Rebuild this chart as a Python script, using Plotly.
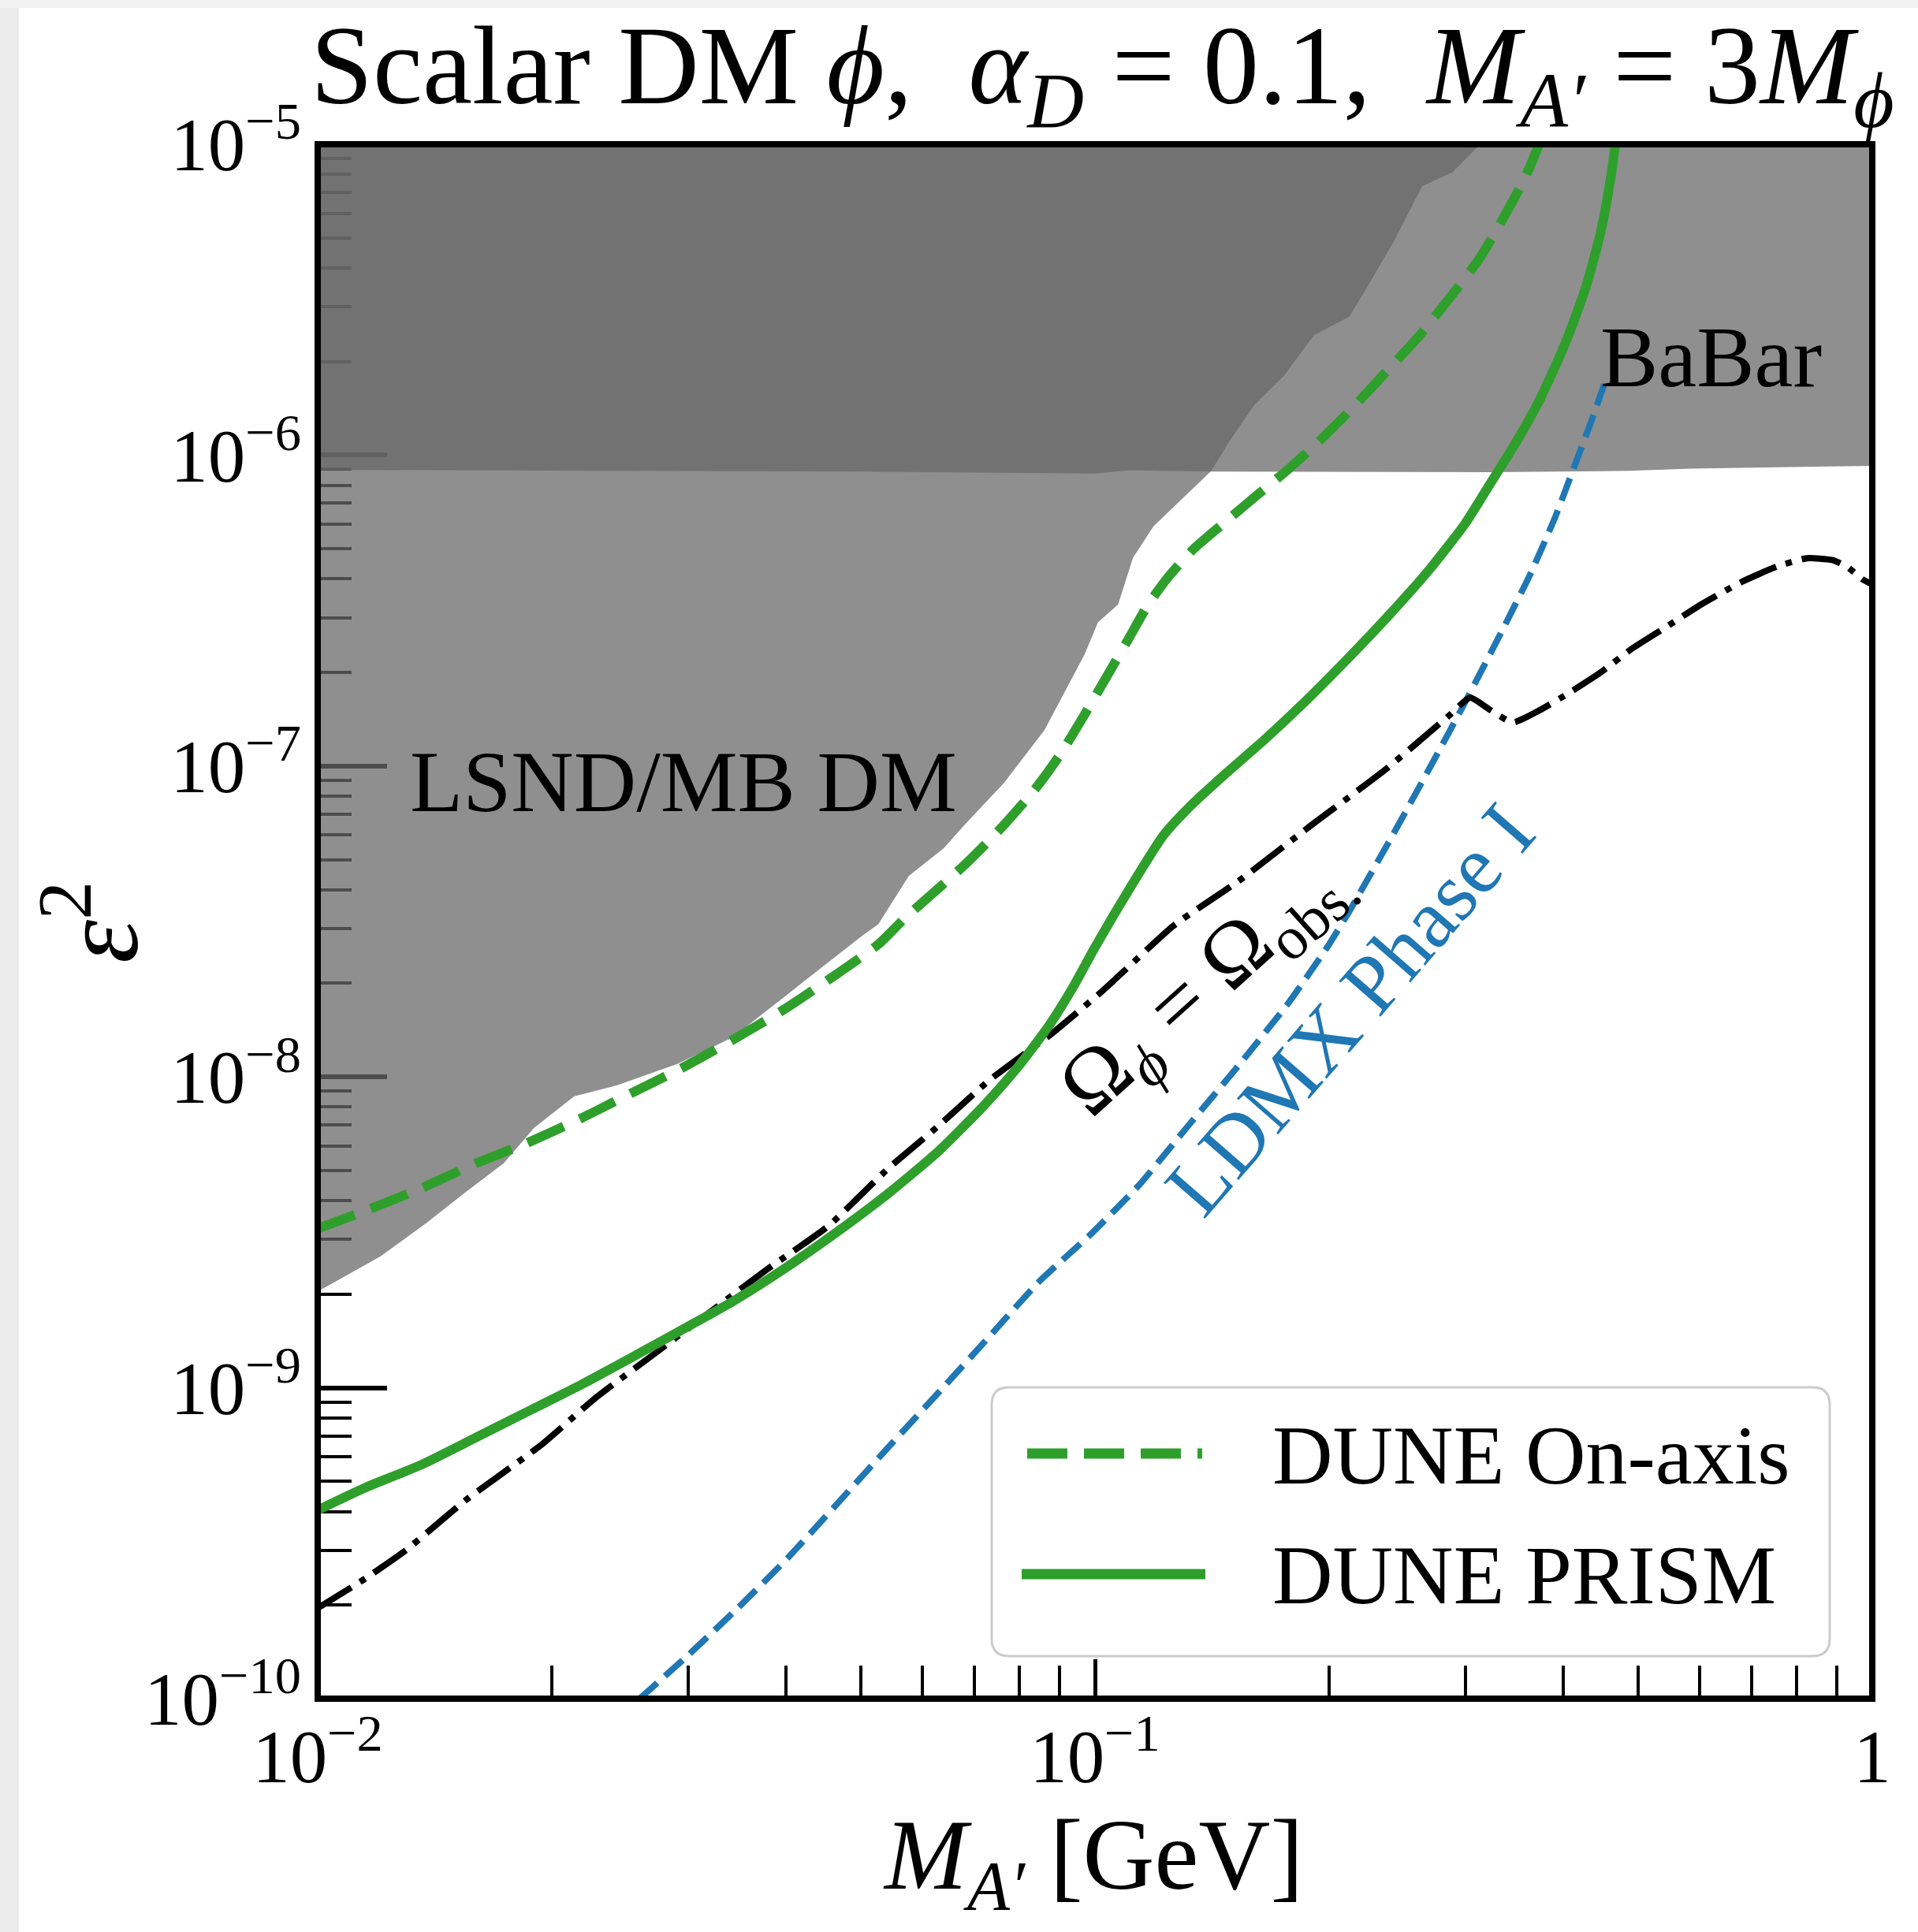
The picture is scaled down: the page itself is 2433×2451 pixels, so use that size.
import plotly.graph_objects as go

# ---------------- data ----------------
# LSND / MiniBooNE DM exclusion: lower boundary (region above/left is excluded)
lsnd_m = [0.01, 0.01205, 0.01378, 0.01552, 0.01736, 0.01898, 0.02138, 0.02428, 0.02902,
          0.03419, 0.03996, 0.04997, 0.05263, 0.0576, 0.0639, 0.0678, 0.0764, 0.0861,
          0.0969, 0.1009, 0.1071, 0.1119, 0.1189, 0.1410, 0.1497, 0.160, 0.175, 0.1913,
          0.2124, 0.2238, 0.2429, 0.2636, 0.2884, 0.3106, 0.315]
lsnd_e2 = [2.04e-9, 2.65e-9, 3.38e-9, 4.27e-9, 5.28e-9, 6.85e-9, 8.66e-9, 9.4e-9, 1.10e-8,
           1.34e-8, 1.82e-8, 2.82e-8, 3.1e-8, 4.43e-8, 5.44e-8, 6.43e-8, 8.83e-8, 1.305e-7,
           2.28e-7, 2.9e-7, 3.31e-7, 4.67e-7, 5.90e-7, 8.88e-7, 1.13e-6, 1.44e-6, 1.80e-6, 2.43e-6,
           2.79e-6, 3.46e-6, 4.92e-6, 7.33e-6, 8.13e-6, 9.8e-6, 1e-5]

# BaBar exclusion: lower boundary (region above is excluded)
babar_m = [0.01, 0.05, 0.1, 0.111, 0.142, 0.322, 0.489, 0.585, 1.0]
babar_e2 = [8.97e-7, 8.85e-7, 8.72e-7, 8.95e-7, 8.85e-7, 8.82e-7, 8.9e-7, 9.05e-7, 9.24e-7]

# DUNE On-axis (dashed green)
on_m = [0.01, 0.0117, 0.01358, 0.016, 0.01857, 0.02187, 0.02538, 0.02945, 0.03419, 0.03968,
        0.04536, 0.05263, 0.05672, 0.0678, 0.0752, 0.0835, 0.09, 0.0969, 0.1039, 0.1103,
        0.1171, 0.1243, 0.1339, 0.1486, 0.1624, 0.1777, 0.1943, 0.2157, 0.2393, 0.2617,
        0.2861, 0.3129, 0.337, 0.3578, 0.374]
on_e2 = [3.25e-9, 3.77e-9, 4.38e-9, 5.28e-9, 6.12e-9, 7.38e-9, 8.89e-9, 1.07e-8, 1.315e-8, 1.64e-8,
         2.05e-8, 2.67e-8, 3.21e-8, 4.78e-8, 6.2e-8, 8.35e-8, 1.08e-7, 1.46e-7, 1.97e-7, 2.55e-7,
         3.31e-7, 4.06e-7, 4.99e-7, 6.23e-7, 7.51e-7, 9.05e-7, 1.11e-6, 1.44e-6, 1.905e-6, 2.43e-6,
         3.21e-6, 4.32e-6, 5.93e-6, 7.84e-6, 1.02e-5]

# DUNE PRISM (solid green)
pr_m = [0.01, 0.01153, 0.01358, 0.016, 0.01884, 0.02187, 0.02576, 0.02989, 0.03419, 0.04027,
        0.04673, 0.05422, 0.0630, 0.0720, 0.0799, 0.0874, 0.0941, 0.0999, 0.1119, 0.1224,
        0.1319, 0.1464, 0.1649, 0.1858, 0.2124, 0.2393, 0.2696, 0.2992, 0.3224, 0.3473,
        0.374, 0.403, 0.4279, 0.4473, 0.4609, 0.4677]
pr_e2 = [4.04e-10, 4.78e-10, 5.65e-10, 6.93e-10, 8.51e-10, 1.026e-9, 1.28e-9, 1.57e-9, 1.895e-9, 2.46e-9,
         3.19e-9, 4.22e-9, 5.79e-9, 8.1e-9, 1.09e-8, 1.47e-8, 1.98e-8, 2.6e-8, 4.2e-8, 5.97e-8,
         7.33e-8, 9.33e-8, 1.21e-7, 1.60e-7, 2.24e-7, 3.07e-7, 4.30e-7, 6.01e-7, 8.09e-7, 1.09e-6,
         1.52e-6, 2.30e-6, 3.46e-6, 5.21e-6, 7.84e-6, 1.02e-5]

# Relic target Omega_phi = Omega_obs (black dash-dot)
rel_m = [0.01, 0.01153, 0.01298, 0.01552, 0.0194, 0.02286, 0.02734, 0.03268, 0.03795, 0.04536,
         0.05422, 0.0630, 0.0731, 0.0874, 0.1026, 0.1261, 0.1531, 0.1913, 0.2358, 0.2861,
         0.3038, 0.3224, 0.3447, 0.374, 0.409, 0.4473, 0.489, 0.543, 0.6025, 0.679,
         0.7536, 0.824, 0.8878, 0.928, 0.9707, 1.0]
rel_e2 = [1.955e-10, 2.44e-10, 3.0e-10, 4.36e-10, 6.56e-10, 9.35e-10, 1.306e-9, 1.827e-9, 2.415e-9, 3.31e-9,
          5.08e-9, 6.98e-9, 9.75e-9, 1.36e-8, 1.905e-8, 3.06e-8, 4.27e-8, 6.55e-8, 9.69e-8, 1.46e-7,
          1.66e-7, 1.515e-7, 1.38e-7, 1.515e-7, 1.73e-7, 2.0e-7, 2.37e-7, 2.80e-7, 3.31e-7, 3.91e-7,
          4.38e-7, 4.66e-7, 4.60e-7, 4.38e-7, 3.99e-7, 3.84e-7]

# LDMX Phase I (blue dashed)
ld_m = [0.02595, 0.02989, 0.0347, 0.04027, 0.04673, 0.05422, 0.0630, 0.0731, 0.0848, 0.0985,
        0.1137, 0.1319, 0.1531, 0.1777, 0.2001, 0.2124, 0.2393, 0.2696, 0.2992, 0.3321,
        0.3631, 0.3912, 0.415, 0.434, 0.452]
ld_e2 = [1.0e-10, 1.373e-10, 1.955e-10, 2.84e-10, 4.27e-10, 6.44e-10, 9.69e-10, 1.46e-9, 2.20e-9, 3.1e-9,
         4.46e-9, 6.98e-9, 1.09e-8, 1.74e-8, 2.67e-8, 3.41e-8, 5.75e-8, 9.87e-8, 1.60e-7, 2.65e-7,
         4.14e-7, 6.35e-7, 9.39e-7, 1.265e-6, 1.69e-6]

x_tickvals = [0.01, 0.1, 1]
x_ticktext = ["10<sup>\u22122</sup>", "10<sup>\u22121</sup>", "1"]
y_tickvals = [1e-10, 1e-9, 1e-8, 1e-7, 1e-6, 1e-5]
y_ticktext = ["10<sup>\u221210</sup>", "10<sup>\u22129</sup>", "10<sup>\u22128</sup>",
              "10<sup>\u22127</sup>", "10<sup>\u22126</sup>", "10<sup>\u22125</sup>"]

X_RANGE = (0.01, 1.0)
Y_RANGE = (1e-10, 1e-5)

# ---------------- layout geometry ----------------
W, H = 2433, 2451
X0, X1, Y0, Y1 = 403, 2375, 183, 2155
FONT = "Liberation Serif"
GREEN = "#2f9f2c"
BLUE = "#1f77b4"


def px(X):
    return (X - X0) / (X1 - X0)


def py(Y):
    return (Y1 - Y) / (Y1 - Y0)


x_minor = [k * 10.0 ** e for e in (-2, -1) for k in range(2, 10)]
y_minor = [k * 10.0 ** e for e in range(-10, -5) for k in range(2, 10)]

fig = go.Figure()

fill_col = "rgba(104,104,104,0.74)"
# LSND region: boundary then up to the top-left corner of the frame
fig.add_trace(go.Scatter(
    x=lsnd_m + [X_RANGE[0]], y=lsnd_e2 + [Y_RANGE[1]],
    fill="toself", fillcolor=fill_col, mode="none", hoverinfo="skip",
    showlegend=False, name="LSND/MB DM"))
# BaBar region: boundary then the top edge of the frame
fig.add_trace(go.Scatter(
    x=babar_m + [X_RANGE[1], X_RANGE[0]], y=babar_e2 + [Y_RANGE[1], Y_RANGE[1]],
    fill="toself", fillcolor=fill_col, mode="none", hoverinfo="skip",
    showlegend=False, name="BaBar"))

fig.add_trace(go.Scatter(x=ld_m, y=ld_e2, mode="lines", name="LDMX Phase I",
                         line=dict(color=BLUE, width=8, dash="30px,13px", shape="spline",
                                   smoothing=0.5), showlegend=False))
fig.add_trace(go.Scatter(x=rel_m, y=rel_e2, mode="lines", name="relic",
                         line=dict(color="black", width=8, dash="50px,13px,8px,13px",
                                   shape="spline", smoothing=0.5),
                         showlegend=False))
fig.add_trace(go.Scatter(x=pr_m, y=pr_e2, mode="lines", name="DUNE PRISM",
                         line=dict(color=GREEN, width=12, shape="spline", smoothing=0.6),
                         showlegend=False))
fig.add_trace(go.Scatter(x=on_m, y=on_e2, mode="lines", name="DUNE On-axis",
                         line=dict(color=GREEN, width=12, dash="50px,22px", shape="spline",
                                   smoothing=0.6),
                         showlegend=False))

shapes = []
# page shadow at the top-left (screenshot frame)
shapes.append(dict(type="rect", xref="paper", yref="paper", x0=px(0), x1=px(24), y0=py(W * 2), y1=py(0),
                   fillcolor="#ececec", line=dict(width=0), layer="below"))
shapes.append(dict(type="rect", xref="paper", yref="paper", x0=px(0), x1=px(W + 10), y0=py(10), y1=py(0),
                   fillcolor="#f2f2f2", line=dict(width=0), layer="below"))
# axes frame
shapes.append(dict(type="rect", xref="paper", yref="paper", x0=0, x1=1, y0=0, y1=1,
                   line=dict(color="black", width=8), layer="above"))

# legend box with rounded corners
lx0, lx1, ly0, ly1 = px(1258), px(2321), py(2101), py(1760)
r = 22 / (X1 - X0)
path = (f"M{lx0 + r},{ly0} L{lx1 - r},{ly0} Q{lx1},{ly0} {lx1},{ly0 + r} "
        f"L{lx1},{ly1 - r} Q{lx1},{ly1} {lx1 - r},{ly1} L{lx0 + r},{ly1} "
        f"Q{lx0},{ly1} {lx0},{ly1 - r} L{lx0},{ly0 + r} Q{lx0},{ly0} {lx0 + r},{ly0} Z")
shapes.append(dict(type="path", xref="paper", yref="paper", path=path,
                   fillcolor="rgba(255,255,255,0.85)", line=dict(color="#cccccc", width=3),
                   layer="above"))
shapes.append(dict(type="line", xref="paper", yref="paper", x0=px(1303), x1=px(1525),
                   y0=py(1844), y1=py(1844), line=dict(color=GREEN, width=13, dash="51px,21px"),
                   layer="above"))
shapes.append(dict(type="line", xref="paper", yref="paper", x0=px(1296), x1=px(1529),
                   y0=py(1997), y1=py(1997), line=dict(color=GREEN, width=13), layer="above"))

NB = "\u00a0"
annotations = [
    # title
    dict(text=f"Scalar DM <i>\u03d5</i>,{NB}{NB}<i>\u03b1</i><sub><i>D</i></sub> = 0.1,{NB}{NB}"
              f"<i>M</i><sub><i>A\u2032</i></sub> = 3<i>M</i><sub><i>\u03d5</i></sub>",
         x=px(1398), y=py(94), xanchor="center", yanchor="middle", font=dict(size=142)),
    # x axis label
    dict(text=f"<i>M</i><sub><i>A\u2032</i></sub>{NB}[GeV]", x=px(1386), y=py(2362),
         xanchor="center", yanchor="middle", font=dict(size=126)),
    # y axis label
    dict(text="<i>\u03b5</i><sup>2</sup>", x=px(116), y=py(1170), textangle=-90,
         xanchor="center", yanchor="middle", font=dict(size=140)),
    dict(text="LSND/MB DM", x=px(518), y=py(992), xanchor="left", yanchor="middle",
         font=dict(size=110)),
    dict(text="BaBar", x=px(2028), y=py(453), xanchor="left", yanchor="middle",
         font=dict(size=110)),
    dict(text=f"\u03a9<sub><i>\u03d5</i></sub> = \u03a9<sub>obs.</sub>", x=px(1530), y=py(1250),
         textangle=-42, xanchor="center", yanchor="middle", font=dict(size=110)),
    dict(text="LDMX Phase I", x=px(1712), y=py(1280), textangle=-49,
         xanchor="center", yanchor="middle", font=dict(size=106, color=BLUE)),
    dict(text="DUNE On-axis", x=px(1612), y=py(1846), xanchor="left", yanchor="middle",
         font=dict(size=106)),
    dict(text="DUNE PRISM", x=px(1612), y=py(1998), xanchor="left", yanchor="middle",
         font=dict(size=106)),
]
for a in annotations:
    a.update(xref="paper", yref="paper", showarrow=False)
    a.setdefault("font", {})
    a["font"].setdefault("color", "black")
    a["font"]["family"] = FONT

axis_common = dict(type="log", showgrid=False, zeroline=False, showline=False,
                   ticks="inside", tickcolor="black", layer="below traces",
                   tickfont=dict(family=FONT, size=95, color="black"), tickmode="array")

fig.update_layout(
    width=W, height=H, autosize=False,
    margin=dict(l=X0, r=W - X1, t=Y0, b=H - Y1, pad=0),
    paper_bgcolor="white", plot_bgcolor="white",
    showlegend=False,
    xaxis=dict(axis_common, range=[-2, 0], tickvals=x_tickvals, ticktext=x_ticktext,
               ticklen=50, tickwidth=5, ticklabelstandoff=10,
               minor=dict(tickmode="array", tickvals=x_minor, ticks="inside", ticklen=42,
                          tickwidth=3.5, tickcolor="black")),
    yaxis=dict(axis_common, range=[-10, -5], tickvals=y_tickvals, ticktext=y_ticktext,
               ticklen=88, tickwidth=6, ticklabelstandoff=20,
               minor=dict(tickmode="array", tickvals=y_minor, ticks="inside", ticklen=43,
                          tickwidth=3.5, tickcolor="black")),
    shapes=shapes,
    annotations=annotations,
)

fig.write_html("out.html", post_script="document.body.style.margin='0px';",
               config={"displayModeBar": False})
